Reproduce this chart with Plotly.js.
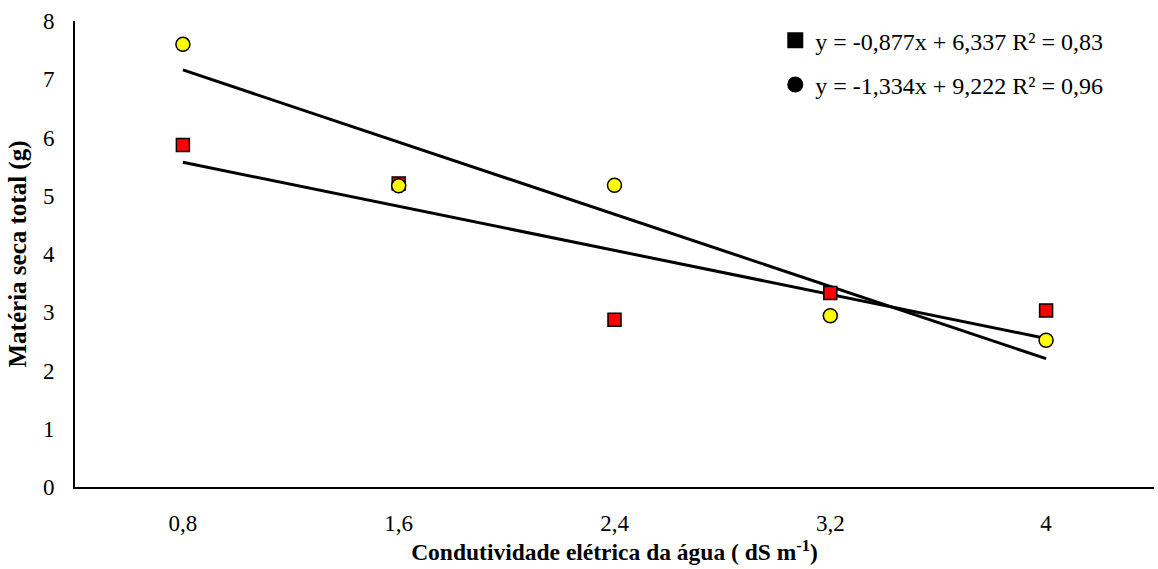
<!DOCTYPE html>
<html>
<head>
<meta charset="utf-8">
<script src="https://cdn.plot.ly/plotly-3.0.1.min.js"></script>
<style>html,body{margin:0;padding:0;background:#fff;}#chart{width:1158px;height:569px;}</style>
</head>
<body>
<div id="chart"></div>
<script>
const categories = ["0,8", "1,6", "2,4", "3,2", "4"];
const squareValues = [5.87, 5.21, 2.87, 3.33, 3.03];
const circleValues = [7.60, 5.17, 5.18, 2.94, 2.52];
const legendSquare = "y = -0,877x + 6,337 R² = 0,83";
const legendCircle = "y = -1,334x + 9,222 R² = 0,96";

const pos = categories.map((c, i) => i);
function fit(ys) {
  const n = ys.length;
  const mx = pos.reduce((a, b) => a + b, 0) / n;
  const my = ys.reduce((a, b) => a + b, 0) / n;
  let sxy = 0, sxx = 0;
  for (let i = 0; i < n; i++) { sxy += (pos[i] - mx) * (ys[i] - my); sxx += (pos[i] - mx) ** 2; }
  const m = sxy / sxx, b = my - m * mx;
  const xs = [pos[0], pos[n - 1]];
  return { x: xs, y: xs.map(x => m * x + b) };
}
const fs = fit(squareValues), fc = fit(circleValues);
const font = "Liberation Serif, Times New Roman, serif";

const traces = [
  { x: fs.x, y: fs.y, mode: "lines", line: { color: "#000", width: 3 }, showlegend: false, hoverinfo: "skip" },
  { x: fc.x, y: fc.y, mode: "lines", line: { color: "#000", width: 3 }, showlegend: false, hoverinfo: "skip" },
  { x: pos, y: squareValues, mode: "markers", showlegend: false,
    marker: { symbol: "square", size: 13, color: "#ff0000", line: { color: "#000", width: 1.5 } } },
  { x: pos, y: circleValues, mode: "markers", showlegend: false,
    marker: { symbol: "circle", size: 14, color: "#ffff00", line: { color: "#000", width: 1.5 } } },
  { x: [null], y: [null], mode: "markers", name: legendSquare, legendgroup: "a",
    marker: { symbol: "square", size: 17, color: "#000" } },
  { x: [null], y: [null], mode: "markers", name: legendCircle, legendgroup: "b",
    marker: { symbol: "circle", size: 17, color: "#000" } }
];

const layout = {
  width: 1158, height: 569,
  margin: { l: 75, r: 4, t: 21, b: 82 },
  paper_bgcolor: "#fff", plot_bgcolor: "#fff",
  font: { family: font, color: "#000", size: 23 },
  showlegend: true,
  legend: { x: 0.649, y: 1.006, xanchor: "left", yanchor: "top", bgcolor: "rgba(0,0,0,0)",
    font: { family: font, size: 24, color: "#000" }, tracegroupgap: 10, traceorder: "grouped" },
  xaxis: {
    range: [-0.5, 4.5], tickmode: "array", tickvals: pos, ticktext: categories,
    showgrid: false, zeroline: false, showline: true, linecolor: "#000", linewidth: 2,
    ticks: "", ticklabelstandoff: 14, tickfont: { family: font, size: 23 },
    title: { text: "<b>Condutividade elétrica da água ( dS m<sup>-1</sup>)</b>", font: { family: font, size: 23.5 }, standoff: 5 }
  },
  yaxis: {
    range: [0, 8], dtick: 1, showgrid: false, zeroline: false, showline: true,
    linecolor: "#000", linewidth: 2, ticks: "", ticklabelstandoff: 14,
    tickfont: { family: font, size: 23 },
    title: { text: "<b>Matéria seca total (g)</b>", font: { family: font, size: 25 }, standoff: 9 }
  }
};

Plotly.newPlot("chart", traces, layout, { displayModeBar: false, staticPlot: true });
</script>
</body>
</html>
